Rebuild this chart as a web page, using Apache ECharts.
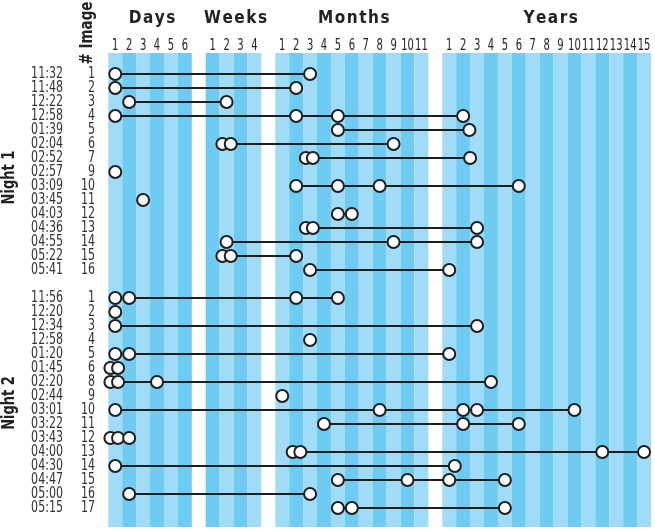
<!DOCTYPE html>
<html><head><meta charset="utf-8">
<script src="https://cdn.jsdelivr.net/npm/echarts@6.0.0/dist/echarts.min.js"></script>
<style>html,body{margin:0;padding:0;background:#fff}#c{width:655px;height:530px}</style>
</head><body><div id="c"></div><script>
// ---- data ----
const groupTitles = ['Days', 'Weeks', 'Months', 'Years'];
const dayTicks = ['1','2','3','4','5','6'];
const weekTicks = ['1','2','3','4'];
const monthTicks = ['1','2','3','4','5','6','7','8','9','10','11'];
const yearTicks = ['1','2','3','4','5','6','7','8','9','10','11','12','13','14','15'];
const groupKeys = ['d', 'w', 'm', 'y'];

const nightLabels = ['Night 1', 'Night 2'];
const imageHeader = '# Image';

const night1Times = ['11:32','11:48','12:22','12:58','01:39','02:04','02:52','02:57','03:09','03:45','04:03','04:36','04:55','05:22','05:41'];
const night1Images = ['1','2','3','4','5','6','7','9','10','11','12','13','14','15','16'];
const night1Points = [
  ['d1','m3'],
  ['d1','m2'],
  ['d2','w2'],
  ['d1','m2','m5','y2'],
  ['m5','y2.45'],
  ['w1.7','w2.3','m9'],
  ['m2.7','m3.2','y2.5'],
  ['d1'],
  ['m2','m5','m8','y6'],
  ['d3'],
  ['m5','m6'],
  ['m2.7','m3.2','y3'],
  ['w2','m9','y3'],
  ['w1.7','w2.3','m2'],
  ['m3','y1']
];

const night2Times = ['11:56','12:20','12:34','12:58','01:20','01:45','02:20','02:44','03:01','03:22','03:43','04:00','04:30','04:47','05:00','05:15'];
const night2Images = ['1','2','3','4','5','6','8','9','10','11','12','13','14','15','16','17'];
const night2Points = [
  ['d1','d2','m2','m5'],
  ['d1'],
  ['d1','y3'],
  ['m3'],
  ['d1','d2','y1'],
  ['d0.65','d1.2'],
  ['d0.65','d1.2','d4','y4'],
  ['m1'],
  ['d1','m8','y2','y3','y10'],
  ['m4','y2','y6'],
  ['d0.65','d1.2','d2'],
  ['m1.75','m2.3','y12','y15'],
  ['d1','y1.4'],
  ['m5','m10','y1','y5'],
  ['d2','m3'],
  ['m5','m6','y5']
];

// ---- layout helpers ----
const groups = [dayTicks, weekTicks, monthTicks, yearTicks];
const offsets = {};
const gapSlots = [];
let pos = 0;
groups.forEach((g, i) => {
  offsets[groupKeys[i]] = pos - 0.5;
  pos += g.length;
  if (i < groups.length - 1) { gapSlots.push(pos); pos += 1; }
});
const totalSlots = pos;

function toX(s) {
  const k = s[0];
  const v = parseFloat(s.slice(1));
  return offsets[k] + v;
}

const rows = [];
night1Points.forEach((p, i) => rows.push({ y: i, pts: p, time: night1Times[i], img: night1Images[i] }));
const n2start = night1Points.length + 1;
night2Points.forEach((p, i) => rows.push({ y: n2start + i, pts: p, time: night2Times[i], img: night2Images[i] }));

const yMin = -1.5, yMax = 32.36;
const FONT = '"DejaVu Sans Condensed", "Liberation Sans Narrow", "Noto Sans", sans-serif';

const stripeData = [];
for (let i = 0; i < totalSlots; i++) if (gapSlots.indexOf(i) < 0) stripeData.push(i);

const series = [{
  type: 'custom',
  silent: true,
  z: 1,
  renderItem: function (params, api) {
    const i = api.value(0);
    const p1 = api.coord([i, yMin]);
    const p2 = api.coord([i + 1, yMax]);
    return {
      type: 'rect',
      shape: { x: p1[0], y: Math.min(p1[1], p2[1]), width: p2[0] - p1[0], height: Math.abs(p2[1] - p1[1]) },
      style: { fill: i % 2 === 0 ? '#a0dbf7' : '#6ecbf2' }
    };
  },
  data: stripeData.map(i => [i]),
  clip: false
}];

rows.forEach(r => {
  series.push({
    type: 'line',
    silent: true,
    z: 3,
    data: r.pts.map(s => [toX(s), r.y]),
    symbol: 'circle',
    symbolSize: 12,
    showSymbol: true,
    showAllSymbol: true,
    lineStyle: { color: '#1e1e1e', width: 2 },
    itemStyle: { color: '#ffffff', borderColor: '#1e1e1e', borderWidth: 2 },
    emphasis: { disabled: true },
    animation: false
  });
});

const chart = echarts.init(document.getElementById('c'), null, { renderer: 'canvas' });
chart.setOption({
  animation: false,
  backgroundColor: '#ffffff',
  grid: { left: 108.3, top: 53, width: 542.7, height: 474 },
  xAxis: { type: 'value', min: 0, max: totalSlots, show: false },
  yAxis: { type: 'value', min: yMin, max: yMax, inverse: true, show: false },
  series: series
});

// ---- texts placed through the axes ----
const g = [];
const px = (x, y) => chart.convertToPixel({ xAxisIndex: 0, yAxisIndex: 0 }, [x, y]);
const headerTickY = 46, headerTitleY = 19;
groups.forEach((ticks, gi) => {
  const off = offsets[groupKeys[gi]];
  ticks.forEach((t, k) => {
    const p = px(off + k + 1, 0);
    g.push({ type: 'text', x: p[0], y: headerTickY, scaleX: 0.74, silent: true,
      style: { text: t, font: '15px ' + FONT, fill: '#222', align: 'center', verticalAlign: 'middle' } });
  });
  const c = px(off + (ticks.length + 1) / 2, 0);
  g.push({ type: 'text', x: c[0] + (gi === 3 ? 4 : 2), y: headerTitleY, silent: true,
    style: { text: groupTitles[gi].split('').join('\u200A'), font: 'bold 17px ' + FONT, fill: '#222', align: 'center', verticalAlign: 'middle' } });
});
rows.forEach(r => {
  const p = px(0, r.y);
  g.push({ type: 'text', x: 63, y: p[1], scaleX: 0.82, silent: true,
    style: { text: r.time, font: '15px ' + FONT, fill: '#333', align: 'right', verticalAlign: 'middle' } });
  g.push({ type: 'text', x: 95, y: p[1], scaleX: 0.82, silent: true,
    style: { text: r.img, font: '15px ' + FONT, fill: '#333', align: 'right', verticalAlign: 'middle' } });
});
const n1c = px(0, 7.4)[1];
const n2c = px(0, n2start + (night2Points.length - 1) / 2)[1];
[[nightLabels[0], n1c], [nightLabels[1], n2c]].forEach(([t, y]) => {
  g.push({ type: 'text', x: 10, y: y, rotation: Math.PI / 2, scaleX: 0.85, silent: true,
    style: { text: t, font: 'bold 17px ' + FONT, fill: '#222', align: 'center', verticalAlign: 'middle' } });
});
g.push({ type: 'text', x: 88, y: 33, rotation: Math.PI / 2, scaleX: 0.88, silent: true,
  style: { text: imageHeader, font: 'bold 17px ' + FONT, fill: '#222', align: 'center', verticalAlign: 'middle' } });
chart.setOption({ graphic: g });
</script></body></html>
